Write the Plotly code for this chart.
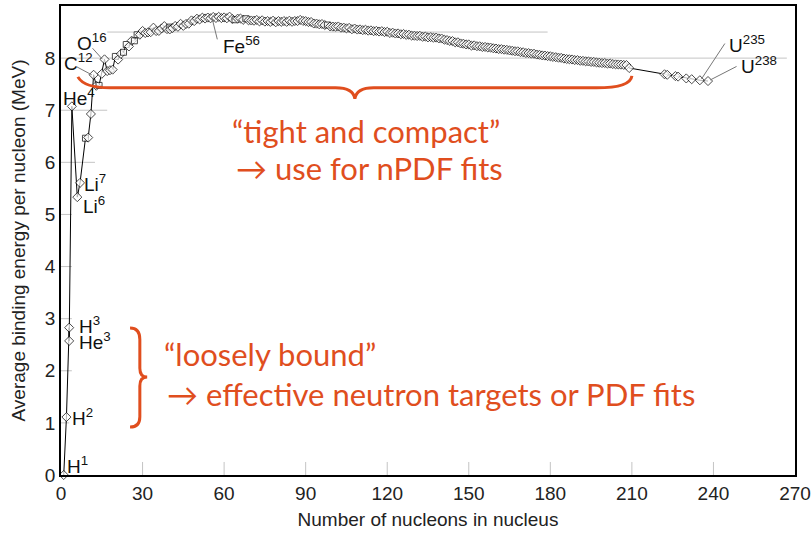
import plotly.graph_objects as go

# ---- data: mass number A and average binding energy per nucleon (MeV) ----
mass_number = [1, 2, 3, 3, 4, 6, 7, 9, 10, 11, 12, 13, 14, 15, 16, 17, 18, 19, 20, 21,
               22, 23, 24, 25, 26, 27, 28, 29, 30, 31, 32, 33, 34, 35, 36, 37, 38, 39, 40, 40,
               41, 42, 43, 44, 45, 46, 47, 48, 49, 50, 51, 52, 53, 54, 55, 56, 57, 58, 59, 60,
               61, 62, 63, 64, 65, 66, 67, 68, 69, 70, 71, 72, 73, 74, 75, 76, 77, 78, 79, 80,
               81, 82, 83, 84, 85, 86, 87, 88, 89, 90, 91, 92, 93, 94, 95, 96, 97, 98, 99, 100,
               101, 102, 103, 104, 105, 106, 107, 108, 109, 110, 111, 112, 113, 114, 115, 116, 117, 118, 119, 120,
               121, 122, 123, 124, 125, 126, 127, 128, 129, 130, 131, 132, 133, 134, 135, 136, 137, 138, 139, 140,
               141, 142, 143, 144, 145, 146, 147, 148, 149, 150, 151, 152, 153, 154, 155, 156, 157, 158, 159, 160,
               161, 162, 163, 164, 165, 166, 167, 168, 169, 170, 171, 172, 173, 174, 175, 176, 177, 178, 179, 180,
               181, 182, 183, 184, 185, 186, 187, 188, 189, 190, 191, 192, 193, 194, 195, 196, 197, 198, 199, 200,
               201, 202, 203, 204, 205, 206, 207, 208, 209, 222, 223, 226, 227, 230, 232, 235, 238]
binding_energy = [0.000, 1.112, 2.827, 2.573, 7.074, 5.332, 5.606, 6.463, 6.475, 6.928, 7.680, 7.470, 7.476, 7.699, 7.976, 7.751, 7.767, 7.779, 8.032, 7.972,
                  8.080, 8.112, 8.261, 8.224, 8.334, 8.332, 8.448, 8.449, 8.521, 8.481, 8.493, 8.498, 8.584, 8.520, 8.522, 8.570, 8.614, 8.557, 8.595, 8.551,
                  8.576, 8.617, 8.601, 8.658, 8.619, 8.656, 8.661, 8.723, 8.711, 8.756, 8.742, 8.776, 8.760, 8.778, 8.765, 8.790, 8.770, 8.792, 8.768, 8.781,
                  8.765, 8.795, 8.752, 8.736, 8.757, 8.760, 8.734, 8.756, 8.725, 8.722, 8.718, 8.732, 8.705, 8.725, 8.701, 8.711, 8.695, 8.718, 8.688, 8.711,
                  8.696, 8.711, 8.696, 8.717, 8.697, 8.712, 8.711, 8.733, 8.714, 8.710, 8.693, 8.693, 8.664, 8.662, 8.649, 8.654, 8.635, 8.635, 8.608, 8.605,
                  8.601, 8.607, 8.584, 8.585, 8.571, 8.580, 8.554, 8.567, 8.548, 8.551, 8.537, 8.545, 8.527, 8.532, 8.517, 8.523, 8.510, 8.517, 8.500, 8.505,
                  8.482, 8.488, 8.472, 8.474, 8.458, 8.463, 8.446, 8.449, 8.431, 8.430, 8.424, 8.428, 8.410, 8.414, 8.398, 8.403, 8.392, 8.394, 8.378, 8.376,
                  8.354, 8.346, 8.330, 8.327, 8.303, 8.304, 8.281, 8.277, 8.263, 8.262, 8.239, 8.244, 8.229, 8.227, 8.213, 8.215, 8.204, 8.202, 8.189, 8.184,
                  8.173, 8.173, 8.162, 8.159, 8.147, 8.142, 8.132, 8.130, 8.115, 8.112, 8.098, 8.097, 8.087, 8.084, 8.069, 8.064, 8.052, 8.049, 8.039, 8.035,
                  8.023, 8.018, 8.008, 8.005, 7.991, 7.983, 7.978, 7.974, 7.963, 7.962, 7.949, 7.948, 7.938, 7.936, 7.927, 7.927, 7.916, 7.912, 7.905, 7.906,
                  7.895, 7.897, 7.886, 7.880, 7.878, 7.875, 7.870, 7.868, 7.810, 7.690, 7.680, 7.655, 7.645, 7.610, 7.595, 7.575, 7.560]
square_mass_numbers = [9, 14, 20, 23, 24, 27, 28, 40, 64, 68, 98]

x_ticks = [0, 30, 60, 90, 120, 150, 180, 210, 240, 270]
y_ticks = [0, 1, 2, 3, 4, 5, 6, 7, 8, 9]

# nuclide labels: (text, A, B, leader line (A0, B0, A1, B1) or None)
labels = [
    ("H<sup>1</sup>", 1.6, 0.19, None),
    ("H<sup>2</sup>", 3.4, 1.12, None),
    ("H<sup>3</sup>", 5.7, 2.88, None),
    ("He<sup>3</sup>", 5.7, 2.58, None),
    ("He<sup>4</sup>", 0.1, 7.26, None),
    ("Li<sup>7</sup>", 7.9, 5.60, None),
    ("Li<sup>6</sup>", 7.3, 5.18, None),
    ("C<sup>12</sup>", 0.4, 7.93, (5.9, 7.83, 11.3, 7.68)),
    ("O<sup>16</sup>", 5.3, 8.30, (11.6, 8.19, 15.2, 7.98)),
    ("Fe<sup>56</sup>", 58.7, 8.25, (57.5, 8.36, 55.6, 8.76)),
    ("U<sup>235</sup>", 245.0, 8.28, (244.2, 8.28, 235.6, 7.60)),
    ("U<sup>238</sup>", 249.3, 7.87, (248.5, 7.84, 238.8, 7.58)),
]

orange = "#E04E1E"
notes = [
    ("\u201ctight and compact\u201d", 62.3, 6.60),
    ("\u2192 use for nPDF fits", 63.8, 5.89),
    ("\u201cloosely bound\u201d", 37.3, 2.32),
    ("\u2192 effective neutron targets or PDF fits", 38.4, 1.55),
]

symbols = ["square" if a in square_mass_numbers and i != 39 else "diamond"
           for i, a in enumerate(mass_number)]
sizes = [6 if s == "square" else 7 for s in symbols]

fig = go.Figure()
fig.add_trace(go.Scatter(
    x=mass_number, y=binding_energy, mode="lines+markers",
    line=dict(color="black", width=1),
    marker=dict(symbol=symbols, size=sizes, color="white",
                line=dict(color="black", width=1)),
    cliponaxis=False, showlegend=False, hoverinfo="skip"))

shapes = []
grid_col = "#c4c4c4"
for yv, x0, x1 in [(8.5, 17, 179), (8, 0, 267), (7, 0, 17), (6, 0, 12.5), (5, 0, 4),
                   (4, 0, 4), (3, 0, 4), (2, 0, 4), (1, 0, 3)]:
    shapes.append(dict(type="line", xref="x", yref="y", x0=x0, x1=x1, y0=yv, y1=yv,
                       line=dict(color=grid_col, width=1), layer="below"))
for xv in x_ticks[1:-1]:
    shapes.append(dict(type="line", xref="x", yref="y", x0=xv, x1=xv, y0=0, y1=0.25,
                       line=dict(color=grid_col, width=1), layer="below"))

annotations = []
for text, ax, ay, lead in labels:
    annotations.append(dict(x=ax, y=ay, xref="x", yref="y", text=text, showarrow=False,
                            xanchor="left", yanchor="middle",
                            font=dict(family="Liberation Sans, Arial", size=19, color="#111")))
    if lead:
        shapes.append(dict(type="line", xref="x", yref="y", x0=lead[0], y0=lead[1],
                           x1=lead[2], y1=lead[3], line=dict(color="#777", width=1)))

for text, ax, ay in notes:
    annotations.append(dict(x=ax, y=ay, xref="x", yref="y", text=text, showarrow=False,
                            xanchor="left", yanchor="middle",
                            font=dict(family="Lato, Open Sans, sans-serif", size=31, color=orange)))

# curly braces
shapes.append(dict(type="path", xref="x", yref="y",
                   path="M 6.2,7.64 Q 8.5,7.43 18,7.43 L 101,7.43 Q 107.5,7.43 108.1,7.22 "
                        "Q 108.7,7.43 115,7.43 L 197,7.43 Q 209.5,7.43 210,7.66",
                   line=dict(color=orange, width=3)))
shapes.append(dict(type="path", xref="x", yref="y",
                   path="M 25.4,2.82 Q 29.0,2.82 29.0,2.60 L 29.0,2.05 Q 29.0,1.88 31.7,1.88 "
                        "Q 29.0,1.88 29.0,1.71 L 29.0,1.12 Q 29.0,0.92 25.4,0.92",
                   line=dict(color=orange, width=3)))

tick_font = dict(family="Liberation Sans, Arial", size=19, color="#222")
title_font = dict(family="Liberation Sans, Arial", size=19, color="#222")
fig.update_layout(
    width=812, height=534,
    margin=dict(l=61, r=17, t=6, b=59),
    paper_bgcolor="white", plot_bgcolor="white",
    shapes=shapes, annotations=annotations,
    xaxis=dict(range=[0, 270], tickvals=x_ticks, showgrid=False, zeroline=False,
               showline=True, mirror=True, linecolor="black", linewidth=1.5,
               ticks="", tickfont=tick_font, automargin=False,
               title=dict(text="Number of nucleons in nucleus", font=title_font, standoff=10)),
    yaxis=dict(range=[0, 9], tickvals=y_ticks, showgrid=False, zeroline=False,
               showline=True, mirror=True, linecolor="black", linewidth=1.5,
               ticks="", tickfont=tick_font, automargin=False,
               title=dict(text="Average binding energy per nucleon (MeV)", font=title_font, standoff=14)),
)

fig.write_html("out.html", config={"displayModeBar": False},
               post_script="document.body.style.margin='0';")
